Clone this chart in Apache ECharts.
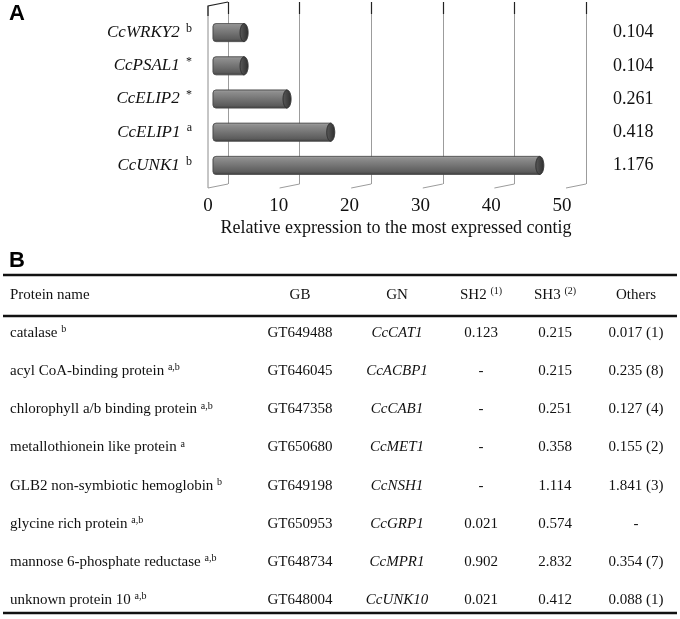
<!DOCTYPE html>
<html><head><meta charset="utf-8">
<script src="https://cdn.jsdelivr.net/npm/echarts@6/dist/echarts.min.js"></script>
<style>html,body{margin:0;padding:0;background:#fff}#c{width:680px;height:619px}</style>
</head><body><div id="c"></div>
<script>
// ---------- Panel A data ----------
const genes = ['CcWRKY2', 'CcPSAL1', 'CcELIP2', 'CcELIP1', 'CcUNK1'];
const geneMarks = ['b', '*', '*', 'a', 'b'];
const barValues = [4.9, 4.9, 10.9, 17.0, 46.2];
const rightValues = ['0.104', '0.104', '0.261', '0.418', '1.176'];
const axisTicks = [0, 10, 20, 30, 40, 50];
const axisTitle = 'Relative expression to the most expressed contig';

// ---------- Panel B data ----------
const tableHeader = ['Protein name', 'GB', 'GN', 'SH2', 'SH3', 'Others'];
const headerMarks = ['', '', '', '(1)', '(2)', ''];
const proteinNames = ['catalase', 'acyl CoA-binding protein', 'chlorophyll a/b binding protein',
  'metallothionein like protein', 'GLB2 non-symbiotic hemoglobin', 'glycine rich protein',
  'mannose 6-phosphate reductase', 'unknown protein 10'];
const proteinMarks = ['b', 'a,b', 'a,b', 'a', 'b', 'a,b', 'a,b', 'a,b'];
const gbIds = ['GT649488', 'GT646045', 'GT647358', 'GT650680', 'GT649198', 'GT650953', 'GT648734', 'GT648004'];
const gnNames = ['CcCAT1', 'CcACBP1', 'CcCAB1', 'CcMET1', 'CcNSH1', 'CcGRP1', 'CcMPR1', 'CcUNK10'];
const sh2Values = ['0.123', '-', '-', '-', '-', '0.021', '0.902', '0.021'];
const sh3Values = ['0.215', '0.215', '0.251', '0.358', '1.114', '0.574', '2.832', '0.412'];
const otherValues = ['0.017 (1)', '0.235 (8)', '0.127 (4)', '0.155 (2)', '1.841 (3)', '-', '0.354 (7)', '0.088 (1)'];

// ---------- layout / styles ----------
const SERIF = "'Liberation Serif', 'Times New Roman', serif";
const COL_X = [10, 300, 397, 481, 555, 636];
const COL_ALIGN = ['left', 'center', 'center', 'center', 'center', 'center'];

// build table cell strings
const tableRows = [tableHeader.map((h, c) => headerMarks[c] ? h + ' {sup|' + headerMarks[c] + '}' : h)];
proteinNames.forEach((n, i) => {
  tableRows.push([
    n + ' {sup|' + proteinMarks[i] + '}',
    gbIds[i],
    '{it|' + gnNames[i] + '}',
    sh2Values[i], sh3Values[i], otherValues[i]
  ]);
});
const tableData = [];
tableRows.forEach((r, ri) => r.forEach((t, ci) => tableData.push([ci, ri])));

const chart = echarts.init(document.getElementById('c'), null, {renderer: 'canvas'});

const bodyGrad = new echarts.graphic.LinearGradient(0, 0, 0, 1, [
  {offset: 0, color: '#a8a8a8'}, {offset: 0.12, color: '#8e8e8e'},
  {offset: 0.5, color: '#747474'}, {offset: 0.85, color: '#5c5c5c'}, {offset: 1, color: '#3e3e3e'}]);
const capGrad = new echarts.graphic.LinearGradient(0, 0, 1, 0, [
  {offset: 0, color: '#5a5a5a'}, {offset: 1, color: '#2e2e2e'}]);

const option = {
  animation: false,
  backgroundColor: '#fff',
  title: [
    {text: 'A', left: 4, top: -2, textStyle: {fontFamily: "'Liberation Sans', Arial", fontWeight: 'bold', fontSize: 22, color: '#000'}},
    {text: 'B', left: 4, top: 245, textStyle: {fontFamily: "'Liberation Sans', Arial", fontWeight: 'bold', fontSize: 22, color: '#000'}}
  ],
  grid: [
    {left: 213, width: 358, top: 16, height: 166},          // 0 bars
    {left: 228, width: 358, top: 2, height: 182},           // 1 back wall
    {left: 228, width: 358, top: 2, height: 12},            // 2 dark tops
    {left: 208, width: 354, top: 6, height: 182},           // 3 front labels
    {left: 0, width: 680, top: 276, height: 345.6}          // 4 table
  ],
  xAxis: [
    {gridIndex: 0, type: 'value', min: 0, max: 50, show: false},
    {gridIndex: 1, type: 'value', min: 0, max: 50, interval: 10, axisLine: {show: false}, axisTick: {show: false}, axisLabel: {show: false},
      splitLine: {show: true, showMinLine: true, showMaxLine: true, lineStyle: {color: '#9c9c9c', width: 1}}},
    {gridIndex: 2, type: 'value', min: 0, max: 50, interval: 10, axisLine: {show: false}, axisTick: {show: false}, axisLabel: {show: false},
      splitLine: {show: true, showMinLine: true, showMaxLine: true, lineStyle: {color: '#222', width: 1.2}}},
    {gridIndex: 3, type: 'value', min: 0, max: 50, interval: 10, axisLine: {show: false}, axisTick: {show: false}, splitLine: {show: false},
      axisLabel: {margin: 9, fontFamily: SERIF, fontSize: 19, color: '#111', formatter: v => axisTicks.includes(v) ? String(v) : ''},
      name: axisTitle, nameLocation: 'middle', nameGap: 31,
      nameTextStyle: {fontFamily: SERIF, fontSize: 18, color: '#111', padding: [0, 0, 0, 22]}},
    {gridIndex: 4, type: 'value', min: 0, max: 680, show: false}
  ],
  yAxis: [
    {gridIndex: 0, type: 'category', data: genes, inverse: true, axisLine: {show: false}, axisTick: {show: false},
      axisLabel: {margin: 21, formatter: (v, i) => '{g|' + v + ' }{s|' + geneMarks[i] + '}',
        rich: {g: {fontFamily: SERIF, fontStyle: 'italic', fontSize: 17, color: '#111'},
               s: {fontFamily: SERIF, fontSize: 12, color: '#111', verticalAlign: 'top', padding: [0, 0, 8, 2]}}}},
    {gridIndex: 0, type: 'category', data: rightValues, inverse: true, position: 'right', axisLine: {show: false}, axisTick: {show: false},
      axisLabel: {margin: 42, align: 'left', fontFamily: SERIF, fontSize: 18, color: '#111'}},
    {gridIndex: 1, type: 'value', min: 0, max: 1, show: false},
    {gridIndex: 2, type: 'value', min: 0, max: 1, show: false},
    {gridIndex: 3, type: 'value', min: 0, max: 1, show: false},
    {gridIndex: 4, type: 'category', data: tableRows.map((r, i) => i), inverse: true, show: false}
  ],
  series: [
    {
      type: 'custom', xAxisIndex: 0, yAxisIndex: 0,
      data: barValues.map((v, i) => [v, i]),
      renderItem: function (params, api) {
        const p0 = api.coord([0, api.value(1)]);
        const p1 = api.coord([api.value(0), api.value(1)]);
        const h = 18, rx = 4;
        const x0 = p0[0], y = p0[1], x1 = p1[0] - rx;
        return {type: 'group', children: [
          {type: 'rect', shape: {x: x0, y: y - h / 2, width: x1 - x0, height: h, r: [3, 0, 0, 3]},
            style: {fill: bodyGrad, stroke: '#4a4a4a', lineWidth: 0.6}},
          {type: 'ellipse', shape: {cx: x1, cy: y, rx: rx, ry: h / 2},
            style: {fill: capGrad, stroke: '#333', lineWidth: 0.6}}
        ]};
      }
    },
    {
      type: 'custom', xAxisIndex: 4, yAxisIndex: 5,
      data: tableData,
      renderItem: function (params, api) {
        const c = api.value(0), r = api.value(1);
        const p = api.coord([COL_X[c], r]);
        return {type: 'text', x: p[0], y: p[1], style: {
          text: tableRows[r][c], align: COL_ALIGN[c], verticalAlign: 'middle',
          fontFamily: SERIF, fontSize: 15, fill: '#111',
          rich: {sup: {fontFamily: SERIF, fontSize: 10, fill: '#111', verticalAlign: 'top', padding: [0, 0, 7, 0]},
                 it: {fontFamily: SERIF, fontSize: 15, fontStyle: 'italic', fill: '#111'}}
        }};
      }
    }
  ]
};
chart.setOption(option);

// decorative 3D frame: left wall and floor slants derived from the axes
const gfx = [];
const back0 = chart.convertToPixel({gridIndex: 1}, [0, 0]);
const backTop0 = chart.convertToPixel({gridIndex: 1}, [0, 1]);
const frontBottom = [back0[0] - 20, back0[1] + 4];
const frontTop = [backTop0[0] - 20, backTop0[1] + 4];
gfx.push({type: 'polyline', shape: {points: [frontBottom, frontTop]}, style: {stroke: '#8c8c8c', lineWidth: 1, fill: null}});
gfx.push({type: 'polyline', shape: {points: [[frontTop[0], frontTop[1] + 10], frontTop, backTop0]}, style: {stroke: '#222', lineWidth: 1.2, fill: null}});
axisTicks.forEach(v => {
  const b = chart.convertToPixel({gridIndex: 1}, [v, 0]);
  gfx.push({type: 'line', shape: {x1: b[0], y1: b[1], x2: b[0] - 20, y2: b[1] + 4}, style: {stroke: '#9c9c9c', lineWidth: 1}});
});
// table rules
[275, 316, 613].forEach(y => gfx.push({type: 'line', shape: {x1: 3, y1: y, x2: 677, y2: y}, style: {stroke: '#111', lineWidth: 2.6}}));
chart.setOption({graphic: gfx});
</script>
</body></html>
